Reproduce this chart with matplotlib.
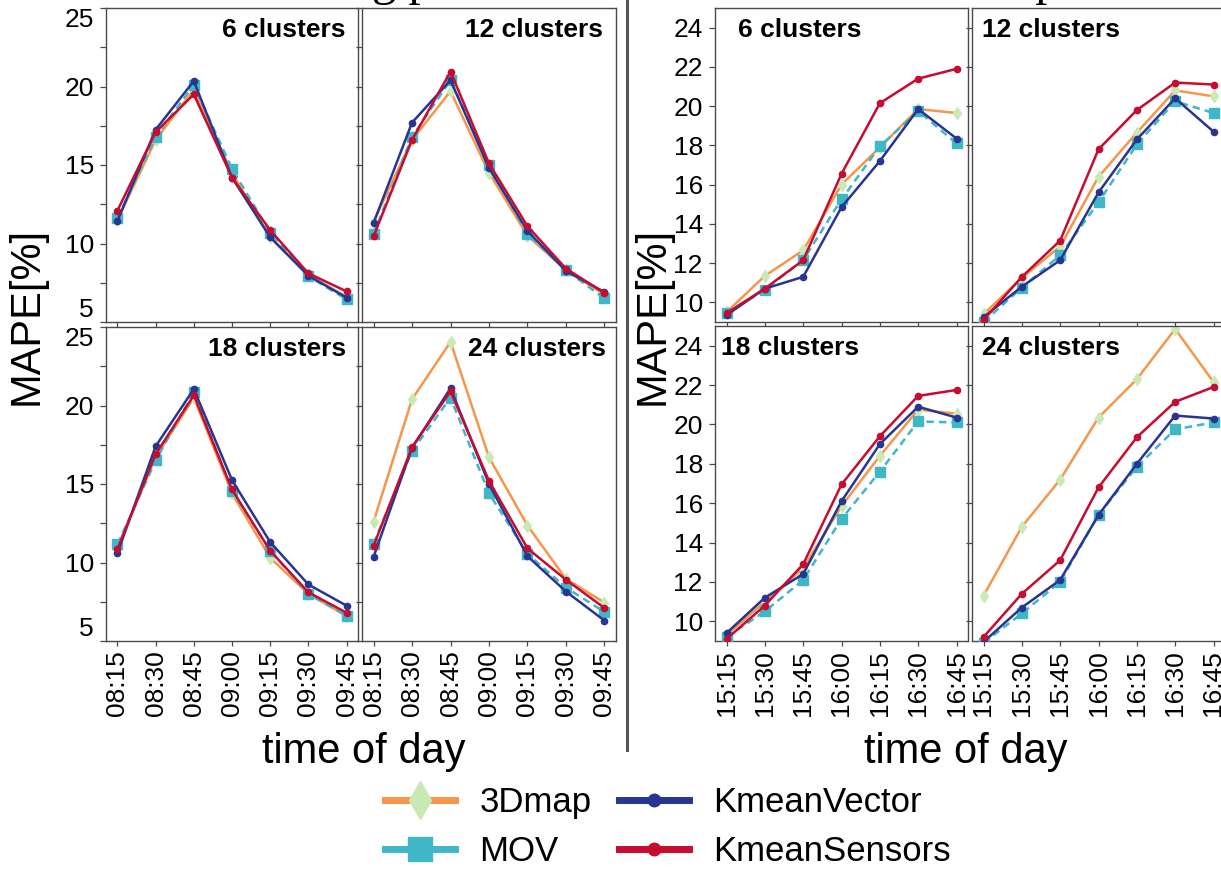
import matplotlib
matplotlib.use("Agg")
import matplotlib.pyplot as plt
from matplotlib.lines import Line2D
import numpy as np

FIG_W, FIG_H = 1221, 869
DPI = 100

AM_TIMES = ["08:15", "08:30", "08:45", "09:00", "09:15", "09:30", "09:45"]
PM_TIMES = ["15:15", "15:30", "15:45", "16:00", "16:15", "16:30", "16:45"]
CLUSTERS = ["6 clusters", "12 clusters", "18 clusters", "24 clusters"]
METHODS = ["3Dmap", "MOV", "KmeanVector", "KmeanSensors"]

# morning peak: one row per cluster count (6, 12, 18, 24)
AM_3DMAP = [
    [11.5, 16.6, 19.8, 14.5, 10.4, 8.0, 6.6],
    [11.4, 16.6, 19.7, 14.5, 10.5, 8.3, 6.75],
    [11.0, 16.7, 20.5, 14.4, 10.3, 8.0, 6.6],
    [12.6, 20.4, 24.05, 16.7, 12.35, 8.95, 7.45],
]
AM_MOV = [
    [11.6, 16.8, 20.1, 14.75, 10.7, 7.9, 6.45],
    [10.6, 16.8, 20.4, 15.0, 10.6, 8.3, 6.5],
    [11.15, 16.5, 20.85, 14.55, 10.75, 8.0, 6.6],
    [11.2, 17.1, 20.5, 14.4, 10.55, 8.4, 6.85],
]
AM_KVECTOR = [
    [11.45, 17.25, 20.35, 14.2, 10.4, 7.95, 6.55],
    [11.3, 17.7, 20.4, 14.8, 10.8, 8.25, 6.9],
    [10.6, 17.4, 21.05, 15.25, 11.3, 8.6, 7.25],
    [10.35, 17.3, 21.1, 15.0, 10.4, 8.15, 6.3],
]
AM_KSENSORS = [
    [12.1, 17.1, 19.5, 14.2, 10.85, 8.1, 6.95],
    [10.45, 16.6, 20.95, 15.1, 11.1, 8.4, 6.85],
    [10.85, 16.9, 20.65, 14.65, 10.75, 8.1, 6.8],
    [11.05, 17.35, 20.9, 15.2, 10.9, 8.9, 7.1],
]

# afternoon peak
PM_3DMAP = [
    [9.5, 11.35, 12.65, 16.0, 17.9, 19.85, 19.65],
    [9.4, 11.25, 12.85, 16.4, 18.65, 20.8, 20.5],
    [9.3, 11.0, 12.7, 15.85, 18.4, 20.75, 20.55],
    [11.3, 14.8, 17.2, 20.35, 22.3, 24.85, 22.15],
]
PM_MOV = [
    [9.45, 10.65, 12.15, 15.25, 17.95, 19.75, 18.1],
    [9.0, 10.75, 12.4, 15.1, 18.05, 20.25, 19.65],
    [9.2, 10.5, 12.1, 15.2, 17.6, 20.15, 20.1],
    [8.9, 10.4, 12.0, 15.4, 17.85, 19.75, 20.1],
]
PM_KVECTOR = [
    [9.35, 10.7, 11.3, 14.85, 17.2, 19.85, 18.35],
    [9.25, 10.8, 12.15, 15.6, 18.3, 20.4, 18.7],
    [9.4, 11.2, 12.4, 16.1, 19.0, 20.9, 20.35],
    [8.95, 10.7, 12.1, 15.4, 18.0, 20.45, 20.3],
]
PM_KSENSORS = [
    [9.45, 10.7, 12.15, 16.55, 20.15, 21.4, 21.9],
    [9.1, 11.3, 13.15, 17.8, 19.8, 21.2, 21.1],
    [9.1, 10.8, 12.9, 16.95, 19.4, 21.45, 21.75],
    [9.2, 11.4, 13.1, 16.8, 19.35, 21.15, 21.9],
]

ORANGE = "#f7964a"
PALE_GREEN = "#c9eab5"
TEAL = "#40b7c6"
NAVY = "#283593"
CRIMSON = "#c60c30"

STYLE = {
    "3Dmap": dict(color=ORANGE, marker="d", mfc=PALE_GREEN, mec=PALE_GREEN, ms=6.5, lw=1.8, zorder=2),
    "MOV": dict(color=TEAL, marker="s", mfc=TEAL, mec=TEAL, ms=6.5, lw=1.8, dashes=(3, 2), zorder=3),
    "KmeanVector": dict(color=NAVY, marker="o", mfc=NAVY, mec=NAVY, ms=4.5, lw=1.8, zorder=4),
    "KmeanSensors": dict(color=CRIMSON, marker="o", mfc=CRIMSON, mec=CRIMSON, ms=4.5, lw=1.8, zorder=5),
}

LEGEND_STYLE = {
    "3Dmap": dict(color=ORANGE, marker="d", mfc=PALE_GREEN, mec=PALE_GREEN, ms=19, lw=5),
    "MOV": dict(color=TEAL, marker="s", mfc=TEAL, mec=TEAL, ms=17, lw=5),
    "KmeanVector": dict(color=NAVY, marker="o", mfc=NAVY, mec=NAVY, ms=9, lw=5),
    "KmeanSensors": dict(color=CRIMSON, marker="o", mfc=CRIMSON, mec=CRIMSON, ms=9, lw=5),
}

EDGE = "#4a4a4a"


def rect(x0, y0, x1, y1):
    return [x0 / FIG_W, 1 - y1 / FIG_H, (x1 - x0) / FIG_W, (y1 - y0) / FIG_H]


def draw_group(fig, cols, rows, times, series, ylim, yticks, yminor, title_right, title_pads):
    x = np.arange(len(times))
    for i, name in enumerate(CLUSTERS):
        r, c = divmod(i, 2)
        x0, x1 = cols[c]
        y0, y1 = rows[r]
        ax = fig.add_axes(rect(x0, y0, x1, y1))
        for m in METHODS:
            ax.plot(x, series[m][i], **STYLE[m])
        ax.set_xlim(-0.3, len(times) - 0.7)
        ax.set_ylim(*ylim)
        ax.set_xticks(x)
        ax.set_yticks(yticks)
        if yminor:
            ax.set_yticks(yminor, minor=True)
        ax.tick_params(axis="both", which="both", direction="out", color=EDGE, width=0.9)
        ax.tick_params(axis="y", which="both", length=4.3, pad=4.5, labelsize=19)
        ax.tick_params(axis="x", length=3.5, pad=3, labelsize=19)
        for sp in ax.spines.values():
            sp.set_color(EDGE)
            sp.set_linewidth(1.0)

        if r == 1:
            ax.set_xticklabels(times, rotation=90, va="top", ha="center")
        else:
            ax.set_xticklabels([])
        if c == 0:
            ax.set_yticklabels([f"{v:g}" for v in yticks])
            labels = ax.get_yticklabels()
            if yticks[0] == ylim[0]:
                labels[0].set_va("bottom")
            if yticks[-1] == ylim[1]:
                labels[-1].set_va("top")
        else:
            ax.set_yticklabels([])

        width = x1 - x0
        height = y1 - y0
        ty = 1 - 22 / height
        if title_right:
            ax.text(1 - title_pads[i] / width, ty, name, transform=ax.transAxes,
                    ha="right", va="center", fontsize=19, fontweight="bold")
        else:
            ax.text(title_pads[i] / width, ty, name, transform=ax.transAxes,
                    ha="left", va="center", fontsize=19, fontweight="bold")


def main():
    plt.rcParams["font.family"] = ["Liberation Sans", "DejaVu Sans"]
    plt.rcParams["axes.unicode_minus"] = False

    fig = plt.figure(figsize=(FIG_W / DPI, FIG_H / DPI), dpi=DPI)

    am = {"3Dmap": AM_3DMAP, "MOV": AM_MOV, "KmeanVector": AM_KVECTOR, "KmeanSensors": AM_KSENSORS}
    pm = {"3Dmap": PM_3DMAP, "MOV": PM_MOV, "KmeanVector": PM_KVECTOR, "KmeanSensors": PM_KSENSORS}

    draw_group(
        fig,
        cols=[(106, 358), (362, 616)],
        rows=[(8, 322), (327, 641)],
        times=AM_TIMES,
        series=am,
        ylim=(5, 25),
        yticks=[5, 10, 15, 20, 25],
        yminor=[7.5, 12.5, 17.5, 22.5],
        title_right=True,
        title_pads=[12, 13, 12, 10],
    )
    draw_group(
        fig,
        cols=[(715, 968), (972, 1225)],
        rows=[(8, 322), (326, 641)],
        times=PM_TIMES,
        series=pm,
        ylim=(9, 25),
        yticks=[10, 12, 14, 16, 18, 20, 22, 24],
        yminor=None,
        title_right=False,
        title_pads=[23, 10, 6, 10],
    )

    # axis titles
    for xc in (27, 653):
        fig.text(xc / FIG_W, 1 - 316 / FIG_H, "MAPE[%]", rotation=90,
                 ha="center", va="center", fontsize=30)
    for xc in (364, 966):
        fig.text(xc / FIG_W, 1 - 763 / FIG_H, "time of day",
                 ha="center", va="baseline", fontsize=30)

    # panel group titles, mostly cropped off the top edge as in the source figure
    fig.text(363 / FIG_W, 1 + 5 / FIG_H, "Morning peak", ha="center", va="baseline",
             fontsize=35, family="Liberation Serif")
    fig.text(975 / FIG_W, 1 + 5 / FIG_H, "Afternoon peak", ha="center", va="baseline",
             fontsize=35, family="Liberation Serif")

    # divider between the two groups
    fig.add_artist(Line2D([627 / FIG_W, 627 / FIG_W], [1, 1 - 750 / FIG_H],
                          transform=fig.transFigure, color="#555555", lw=2.2))

    handles = [Line2D([], [], **LEGEND_STYLE[m]) for m in METHODS]
    fig.legend(handles, METHODS, ncol=2, loc="center",
               bbox_to_anchor=(668 / FIG_W, 1 - 827 / FIG_H), frameon=False,
               fontsize=25, handlelength=2.0, handletextpad=0.7,
               columnspacing=0.8, labelspacing=0.45)

    fig.savefig("out.png", dpi=DPI)
    plt.close(fig)


if __name__ == "__main__":
    main()
